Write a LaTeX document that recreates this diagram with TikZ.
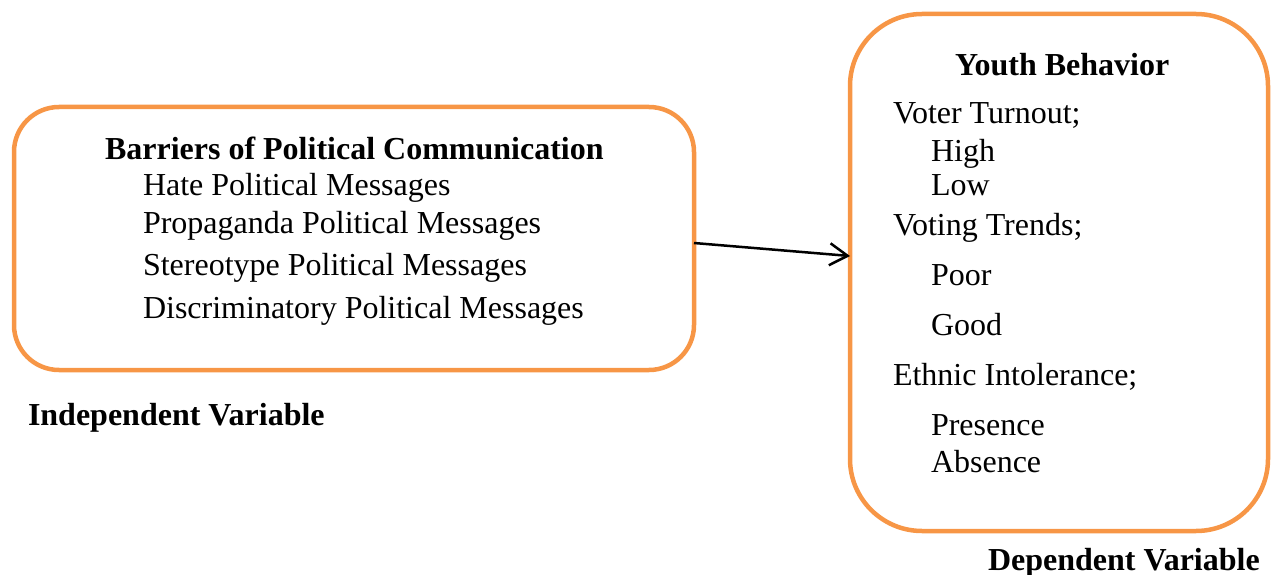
\documentclass[tikz,border=0pt]{standalone}
\usepackage{fontspec}
\setmainfont{Liberation Serif}
\usetikzlibrary{arrows.meta}
\definecolor{boxorange}{RGB}{247,150,70}
\begin{document}
\begin{tikzpicture}[x=1pt,y=-1pt,
  framebox/.style={draw=boxorange, line width=4.5pt, rectangle, outer sep=0pt, inner sep=0pt},
  txt/.style={anchor=base west, inner sep=0pt, outer sep=0pt, font=\fontsize{32}{38}\selectfont},
  btxt/.style={txt, font=\fontsize{32}{38}\selectfont\bfseries},
  link/.style={line width=2.5pt, -{Straight Barb[length=18pt,width=22pt,line width=2.5pt]}}]
  \useasboundingbox (0,0) rectangle (1272,575);

  % frames
  \node[framebox, rounded corners=45pt, minimum width=680pt, minimum height=263pt] (box1) at (354,238.5) {};
  \node[framebox, rounded corners=72pt, minimum width=418pt, minimum height=517pt] (box2) at (1059,272.5) {};

  % independent variable
  \node[btxt] (t1) at (105,160) {Barriers of Political Communication};
  \node[txt] (a1) at (143,196) {Hate Political Messages};
  \node[txt] (a2) at (143,233) {Propaganda Political Messages};
  \node[txt] (a3) at (143,275) {Stereotype Political Messages};
  \node[txt] (a4) at (143,318) {Discriminatory Political Messages};
  \node[btxt] (iv) at (28,425) {Independent Variable};

  % dependent variable
  \node[btxt] (t2) at (955,76) {Youth Behavior};
  \node[txt] (b1) at (893,124) {Voter Turnout;};
  \node[txt] (b2) at (931,162) {High};
  \node[txt] (b3) at (931,196) {Low};
  \node[txt] (b4) at (893,235) {Voting Trends;};
  \node[txt] (b5) at (931,285) {Poor};
  \node[txt] (b6) at (931,335) {Good};
  \node[txt] (b7) at (893,385) {Ethnic Intolerance;};
  \node[txt] (b8) at (931,435) {Presence};
  \node[txt] (b9) at (931,472) {Absence};
  \node[btxt] (dv) at (988,570) {Dependent Variable};

  % relation
  \draw[link] ([yshift=-4.5pt]box1.east) -- ([yshift=16.5pt]box2.west);
\end{tikzpicture}
\end{document}
